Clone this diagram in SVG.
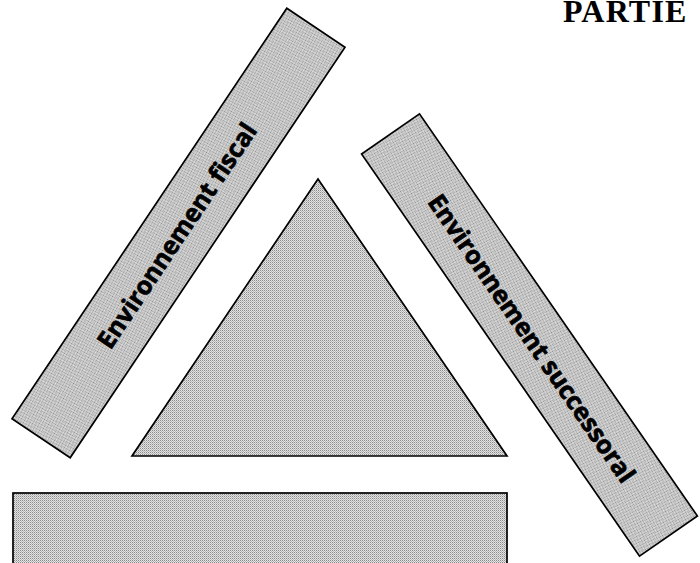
<svg xmlns="http://www.w3.org/2000/svg" width="700" height="563" viewBox="0 0 700 563">
  <defs>
    <!-- halftone-style grey screen -->
    <pattern id="screen" width="2" height="2" patternUnits="userSpaceOnUse">
      <rect width="2" height="2" fill="#e2e2e2"/>
      <rect x="0" y="0" width="1" height="1" fill="#8c8c8c"/>
      <rect x="1" y="1" width="1" height="1" fill="#b8b8b8"/>
    </pattern>
    <style>
      .shape { fill: url(#screen); stroke: #000; stroke-width: 1.7; stroke-linejoin: miter; }
      .band-label { font-family: "Open Sans", "DejaVu Sans", sans-serif; font-weight: 700; font-size: 25px; fill: #000; stroke: #000; stroke-width: 0.7; text-anchor: middle; }
      .title { font-family: "Liberation Serif", "DejaVu Serif", serif; font-weight: 700; font-size: 32px; letter-spacing: 1.2px; fill: #000; }
    </style>
  </defs>

  <text class="title" x="563" y="22">PARTIE</text>

  <g id="env-fiscal" transform="translate(178.5 233) rotate(-56.2)">
    <rect class="shape" x="-247" y="-35" width="494" height="70"/>
    <text class="band-label" x="-3" y="9">Environnement fiscal</text>
  </g>

  <g id="env-successoral" transform="translate(529.5 335) rotate(55.35)">
    <rect class="shape" x="-244.4" y="-35.2" width="488.8" height="70.4"/>
    <text class="band-label" x="4" y="9">Environnement successoral</text>
  </g>

  <g id="triangle">
    <polygon class="shape" points="318,179 132,456 507,456"/>
  </g>

  <g id="base">
    <rect class="shape" x="13" y="493" width="494" height="80"/>
  </g>

  <g id="connectors"></g>
</svg>
